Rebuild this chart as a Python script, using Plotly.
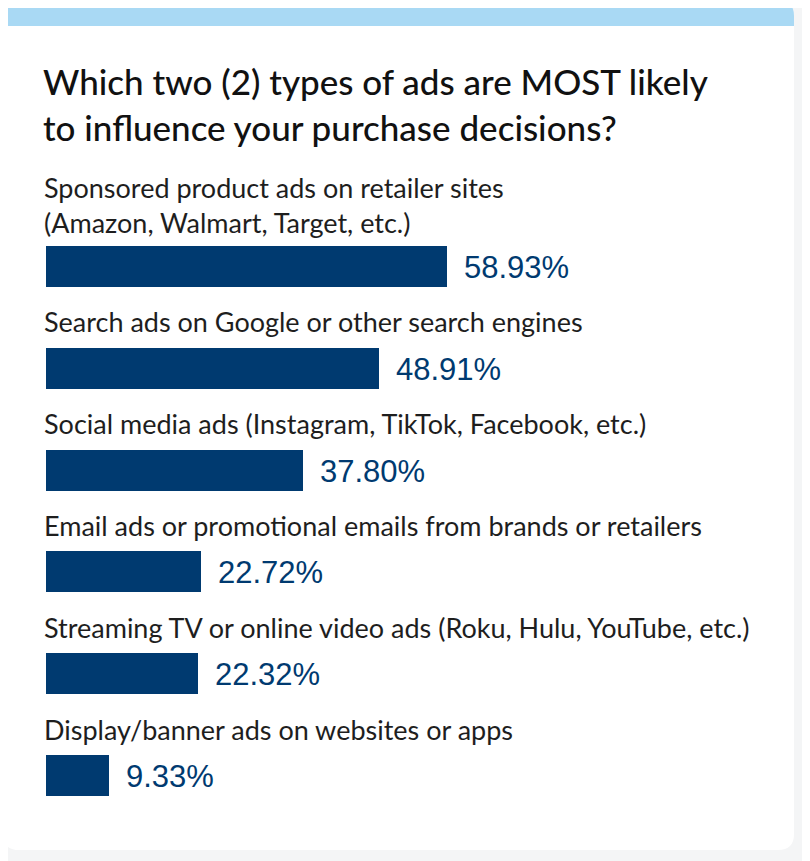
import plotly.graph_objects as go

# the page puts the figure 8px in from the top-left corner
OFF = 8
W, H = 810 - OFF, 861 - OFF

title_lines = ["Which two (2) types of ads are MOST likely",
               "to influence your purchase decisions?"]
categories = [
    "Sponsored product ads on retailer sites<br>(Amazon, Walmart, Target, etc.)",
    "Search ads on Google or other search engines",
    "Social media ads (Instagram, TikTok, Facebook, etc.)",
    "Email ads or promotional emails from brands or retailers",
    "Streaming TV or online video ads (Roku, Hulu, YouTube, etc.)",
    "Display/banner ads on websites or apps",
]
values = [58.93, 48.91, 37.80, 22.72, 22.32, 9.33]
value_labels = ["58.93%", "48.91%", "37.80%", "22.72%", "22.32%", "9.33%"]

BAR = "#003a70"


# screen pixel -> paper coords (margins are zero)
def px(x):
    return (x - OFF) / W


def py(y):
    return 1 - (y - OFF) / H


# bars: first centre at 266.5 px on screen, step ~101.8 px
first_c, step = 266.5 - OFF, 101.8
y_top = -first_c / step
y_bot = (H - first_c) / step

fig = go.Figure()
pos = list(range(len(values)))
fig.add_trace(go.Bar(
    x=values, y=pos, orientation="h", width=41 / step,
    marker=dict(color=BAR, line=dict(width=0)),
    hoverinfo="skip",
))

annotations = []
for i, cat in enumerate(categories):
    n = cat.count("<br>") + 1
    off = (46.5 + 15 * (n - 1)) / step
    annotations.append(dict(
        x=px(42), xref="paper", y=i - off, yref="y",
        text=cat, showarrow=False, xanchor="left", yanchor="middle",
        align="left", font=dict(family="Lato", size=27, color="#1e1e1e"),
    ))

for i, (v, lab) in enumerate(zip(values, value_labels)):
    annotations.append(dict(
        x=v, y=i, xref="x", yref="y", text=lab, showarrow=False,
        xanchor="left", yanchor="middle", xshift=15, yshift=-1,
        font=dict(family="Liberation Sans", size=31, color=BAR),
    ))

annotations.append(dict(
    x=px(41), xref="paper", y=py(104), yref="paper",
    text="<br>".join(title_lines), showarrow=False, xanchor="left",
    yanchor="middle", align="left",
    font=dict(family="Lato", size=35, color="#111111", weight=500),
))


# card with rounded corners and light-blue top band
def rounded(x0, y0, x1, y1, r):
    return (f"M {px(x0 + r)} {py(y0)} L {px(x1 - r)} {py(y0)} "
            f"Q {px(x1)} {py(y0)} {px(x1)} {py(y0 + r)} "
            f"L {px(x1)} {py(y1 - r)} Q {px(x1)} {py(y1)} {px(x1 - r)} {py(y1)} "
            f"L {px(x0 + r)} {py(y1)} Q {px(x0)} {py(y1)} {px(x0)} {py(y1 - r)} "
            f"L {px(x0)} {py(y0 + r)} Q {px(x0)} {py(y0)} {px(x0 + r)} {py(y0)} Z")


def top_band(x0, y0, x1, y1, r):
    return (f"M {px(x0)} {py(y1)} L {px(x0)} {py(y0 + r)} "
            f"Q {px(x0)} {py(y0)} {px(x0 + r)} {py(y0)} "
            f"L {px(x1 - r)} {py(y0)} Q {px(x1)} {py(y0)} {px(x1)} {py(y0 + r)} "
            f"L {px(x1)} {py(y1)} Z")


shapes = [
    dict(type="path", path=rounded(3, 0, 794, 850, 16), xref="paper", yref="paper",
         fillcolor="white", line=dict(width=0), layer="below"),
    dict(type="path", path=top_band(3, 0, 794, 26, 16), xref="paper", yref="paper",
         fillcolor="#a9d9f4", line=dict(width=0), layer="below"),
]

fig.update_layout(
    width=W, height=H, margin=dict(l=0, r=0, t=0, b=0),
    paper_bgcolor="#f4f5f6", plot_bgcolor="rgba(0,0,0,0)",
    showlegend=False, bargap=0,
    xaxis=dict(domain=[px(46), px(726)], range=[0, 100], visible=False, fixedrange=True),
    yaxis=dict(domain=[0, 1], range=[y_bot, y_top], visible=False, fixedrange=True),
    annotations=annotations, shapes=shapes,
)

fig.write_html("out.html")
